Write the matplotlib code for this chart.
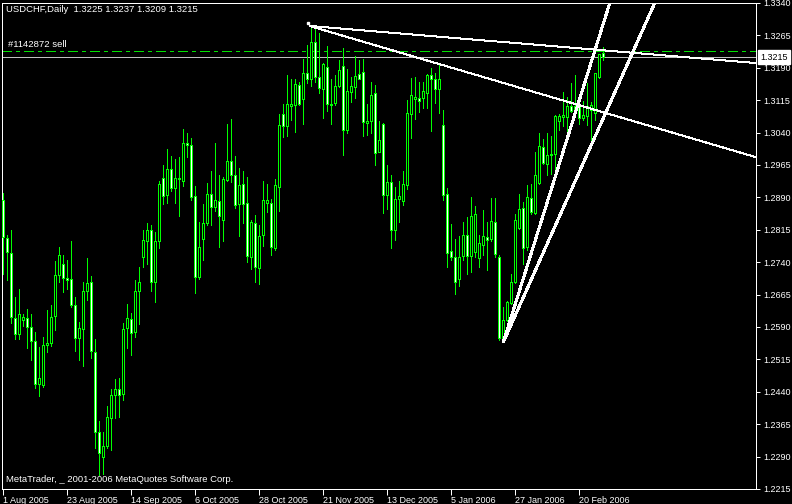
import matplotlib.pyplot as plt
import numpy as np
from matplotlib.transforms import blended_transform_factory

# USDCHF daily candles, 1 Aug 2005 .. end Feb 2006
opens = [1.2883, 1.2796, 1.2762, 1.2611, 1.2574, 1.2606, 1.2611, 1.2591, 1.2557, 1.2458,
         1.2455, 1.2548, 1.2552, 1.2615, 1.2711, 1.2736, 1.2704, 1.2700, 1.2642, 1.2564,
         1.2585, 1.2673, 1.2695, 1.2532, 1.2346, 1.2288, 1.2314, 1.2380, 1.2433, 1.2446,
         1.2435, 1.2587, 1.2609, 1.2578, 1.2673, 1.2752, 1.2789, 1.2814, 1.2695, 1.2790,
         1.2936, 1.2895, 1.2955, 1.2912, 1.2932, 1.2928, 1.3017, 1.3012, 1.2893, 1.2705,
         1.2793, 1.2831, 1.2899, 1.2868, 1.2881, 1.2838, 1.2931, 1.2974, 1.2941, 1.2874,
         1.2922, 1.2878, 1.2752, 1.2831, 1.2727, 1.2804, 1.2878, 1.2878, 1.2773, 1.2914,
         1.3082, 1.3056, 1.3102, 1.3105, 1.3151, 1.3117, 1.3179, 1.3163, 1.3250, 1.3169,
         1.3142, 1.3192, 1.3103, 1.3109, 1.3148, 1.3195, 1.3047, 1.3134, 1.3146, 1.3175,
         1.3181, 1.3063, 1.3066, 1.3131, 1.2995, 1.3059, 1.2896, 1.2926, 1.2815, 1.2886,
         1.2882, 1.2919, 1.3084, 1.3117, 1.3121, 1.3119, 1.3132, 1.3173, 1.3164, 1.3140,
         1.3057, 1.2899, 1.2765, 1.2753, 1.2700, 1.2754, 1.2802, 1.2754, 1.2763, 1.2750,
         1.2779, 1.2798, 1.2794, 1.2833, 1.2753, 1.2562, 1.2606, 1.2646, 1.2695, 1.2819,
         1.2866, 1.2775, 1.2889, 1.2855, 1.2923, 1.3007, 1.2968, 1.2988, 1.2991, 1.3067,
         1.3075, 1.3075, 1.3101, 1.3094, 1.3103, 1.3074, 1.3078, 1.3092, 1.3086, 1.3168,
         1.3225]
highs = [1.2900, 1.2802, 1.2815, 1.2660, 1.2678, 1.2619, 1.2632, 1.2620, 1.2578, 1.2543,
         1.2568, 1.2630, 1.2642, 1.2742, 1.2775, 1.2756, 1.2746, 1.2788, 1.2659, 1.2602,
         1.2694, 1.2749, 1.2707, 1.2563, 1.2373, 1.2348, 1.2408, 1.2446, 1.2469, 1.2473,
         1.2599, 1.2644, 1.2623, 1.2698, 1.2730, 1.2815, 1.2831, 1.2827, 1.2811, 1.2929,
         1.2964, 1.3001, 1.2985, 1.2980, 1.2984, 1.3048, 1.3040, 1.3028, 1.2916, 1.2833,
         1.2874, 1.2923, 1.2951, 1.3016, 1.2941, 1.2937, 1.3059, 1.3071, 1.2985, 1.2959,
         1.2950, 1.2937, 1.2837, 1.2850, 1.2825, 1.2927, 1.2920, 1.2887, 1.2933, 1.3083,
         1.3106, 1.3173, 1.3163, 1.3163, 1.3158, 1.3210, 1.3243, 1.3284, 1.3284, 1.3271,
         1.3202, 1.3240, 1.3165, 1.3173, 1.3208, 1.3235, 1.3187, 1.3169, 1.3218, 1.3209,
         1.3210, 1.3107, 1.3156, 1.3150, 1.3066, 1.3063, 1.2964, 1.2941, 1.2914, 1.2927,
         1.2950, 1.3115, 1.3167, 1.3169, 1.3156, 1.3156, 1.3175, 1.3190, 1.3178, 1.3196,
         1.3093, 1.2912, 1.2828, 1.2793, 1.2800, 1.2833, 1.2845, 1.2891, 1.2869, 1.2803,
         1.2860, 1.2833, 1.2889, 1.2889, 1.2757, 1.2636, 1.2651, 1.2713, 1.2852, 1.2897,
         1.2879, 1.2918, 1.2920, 1.2995, 1.3038, 1.3026, 1.3038, 1.3032, 1.3080, 1.3083,
         1.3134, 1.3123, 1.3154, 1.3173, 1.3111, 1.3113, 1.3154, 1.3111, 1.3177, 1.3223,
         1.3237]
lows = [1.2713, 1.2698, 1.2599, 1.2562, 1.2562, 1.2592, 1.2541, 1.2514, 1.2448, 1.2431,
        1.2450, 1.2531, 1.2545, 1.2582, 1.2694, 1.2670, 1.2677, 1.2636, 1.2534, 1.2514,
        1.2499, 1.2653, 1.2518, 1.2311, 1.2247, 1.2250, 1.2311, 1.2306, 1.2380, 1.2382,
        1.2422, 1.2541, 1.2526, 1.2568, 1.2596, 1.2729, 1.2736, 1.2674, 1.2649, 1.2773,
        1.2875, 1.2877, 1.2905, 1.2877, 1.2848, 1.2916, 1.2984, 1.2883, 1.2668, 1.2700,
        1.2744, 1.2827, 1.2827, 1.2858, 1.2775, 1.2790, 1.2928, 1.2926, 1.2866, 1.2800,
        1.2831, 1.2740, 1.2725, 1.2694, 1.2690, 1.2777, 1.2856, 1.2757, 1.2769, 1.2858,
        1.3030, 1.3032, 1.3069, 1.3042, 1.3103, 1.3059, 1.3154, 1.3148, 1.3158, 1.3131,
        1.3074, 1.3090, 1.3061, 1.3103, 1.3146, 1.2989, 1.3038, 1.3111, 1.3121, 1.3164,
        1.3032, 1.3034, 1.3038, 1.2964, 1.2994, 1.2854, 1.2862, 1.2773, 1.2792, 1.2833,
        1.2872, 1.2910, 1.3028, 1.3071, 1.3088, 1.3098, 1.3097, 1.3044, 1.3109, 1.3086,
        1.2885, 1.2729, 1.2746, 1.2667, 1.2686, 1.2744, 1.2713, 1.2717, 1.2752, 1.2729,
        1.2756, 1.2721, 1.2790, 1.2752, 1.2561, 1.2558, 1.2605, 1.2644, 1.2693, 1.2818,
        1.2736, 1.2769, 1.2852, 1.2852, 1.2922, 1.2968, 1.2943, 1.2945, 1.2937, 1.3047,
        1.3055, 1.3022, 1.3088, 1.3080, 1.3061, 1.3069, 1.3057, 1.3018, 1.3069, 1.3166,
        1.3209]
closes = [1.2798, 1.2763, 1.2613, 1.2574, 1.2620, 1.2614, 1.2589, 1.2557, 1.2458, 1.2473,
          1.2549, 1.2553, 1.2614, 1.2711, 1.2756, 1.2703, 1.2699, 1.2640, 1.2564, 1.2588,
          1.2674, 1.2693, 1.2534, 1.2346, 1.2299, 1.2314, 1.2382, 1.2432, 1.2446, 1.2432,
          1.2585, 1.2611, 1.2576, 1.2674, 1.2695, 1.2792, 1.2815, 1.2694, 1.2790, 1.2922,
          1.2893, 1.2955, 1.2912, 1.2936, 1.2936, 1.3017, 1.3012, 1.2891, 1.2705, 1.2776,
          1.2831, 1.2899, 1.2868, 1.2883, 1.2847, 1.2933, 1.2974, 1.2943, 1.2873, 1.2918,
          1.2875, 1.2754, 1.2834, 1.2729, 1.2800, 1.2883, 1.2883, 1.2775, 1.2918, 1.3057,
          1.3056, 1.3107, 1.3106, 1.3152, 1.3107, 1.3177, 1.3164, 1.3250, 1.3168, 1.3144,
          1.3198, 1.3107, 1.3107, 1.3148, 1.3186, 1.3047, 1.3136, 1.3148, 1.3172, 1.3165,
          1.3065, 1.3066, 1.3128, 1.2993, 1.3024, 1.2896, 1.2926, 1.2815, 1.2887, 1.2893,
          1.2920, 1.3086, 1.3128, 1.3123, 1.3114, 1.3136, 1.3173, 1.3165, 1.3142, 1.3165,
          1.2896, 1.2762, 1.2753, 1.2695, 1.2753, 1.2804, 1.2754, 1.2848, 1.2852, 1.2784,
          1.2800, 1.2792, 1.2835, 1.2760, 1.2565, 1.2606, 1.2649, 1.2695, 1.2837, 1.2864,
          1.2773, 1.2891, 1.2856, 1.2943, 1.3008, 1.2970, 1.2989, 1.2991, 1.3078, 1.3078,
          1.3080, 1.3101, 1.3090, 1.3101, 1.3073, 1.3080, 1.3102, 1.3105, 1.3177, 1.3223,
          1.3215]

date_bars = [0, 16, 32, 48, 64, 80, 96, 112, 128, 144]
date_labels = ['1 Aug 2005', '23 Aug 2005', '14 Sep 2005', '6 Oct 2005', '28 Oct 2005',
               '21 Nov 2005', '13 Dec 2005', '5 Jan 2006', '27 Jan 2006', '20 Feb 2006']
price_ticks = [1.3340, 1.3265, 1.3190, 1.3115, 1.3040, 1.2965, 1.2890, 1.2815,
               1.2740, 1.2665, 1.2590, 1.2515, 1.2440, 1.2365, 1.2290, 1.2215]

# trend lines: (bar, price) start and a second point, drawn as rays
trend_x0 = [76.5, 76.5, 125.0, 125.0]
trend_y0 = [1.3287, 1.3287, 1.2555, 1.2555]
trend_x1 = [188.2, 188.2, 148.7, 158.7]
trend_y1 = [1.3201, 1.2983, 1.3254, 1.3254]
trend_px = [1, 1, 2, 2]

order_price = 1.3229
bid_price = 1.3215

BULL = '#00ff00'
PX = 0.72  # one pixel in points at 100 dpi
FONT = 'Liberation Sans'

o = np.array(opens)
c = np.array(closes)
x = np.arange(len(o))

fig = plt.figure(figsize=(7.92, 5.04), dpi=100, facecolor='black')
ax = fig.add_axes([2 / 792, 15 / 504, 754 / 792, 486 / 504], facecolor='black')
ax.set_xlim(-0.33, 188.17)
ax.set_ylim(1.2215, 1.3340)

# bid and order lines
ax.axhline(bid_price, color='#c0c0c0', lw=PX, zorder=1, antialiased=False)
ax.axhline(order_price, color='#00e000', lw=PX, ls=(0, (10, 5, 3, 5)), zorder=1,
           antialiased=False)
ax.annotate('#1142872 sell', xy=(1.2, order_price), xytext=(0, 2), textcoords='offset pixels',
            color='white', fontsize=6.8, family=FONT, va='bottom', ha='left')

# candles
ax.vlines(x, lows, highs, color=BULL, lw=PX, zorder=2, antialiased=False)
body_bottom = np.minimum(o, c)
body_height = np.abs(c - o)
face = ['black' if cc >= oo else 'white' for oo, cc in zip(o, c)]
ax.bar(x, body_height, bottom=body_bottom, width=0.5, color=face, edgecolor=BULL,
       linewidth=PX, zorder=3, antialiased=False)

# trend lines (rays to the right)
for x0, y0, x1, y1, w in zip(trend_x0, trend_y0, trend_x1, trend_y1, trend_px):
    slope = (y1 - y0) / (x1 - x0)
    xe = 400
    ax.plot([x0, xe], [y0, y0 + slope * (xe - x0)], color='white', lw=w * PX, zorder=4,
            antialiased=False, solid_capstyle='butt')
ax.plot([76.2], [1.3293], marker='s', ms=2, color='white', zorder=4)

# frame and ticks
for sp in ax.spines.values():
    sp.set_color('white')
    sp.set_linewidth(PX)
ax.set_xticks(date_bars)
ax.set_xticklabels(date_labels)
ax.set_yticks(price_ticks)
ax.set_yticklabels([f'{p:.4f}' for p in price_ticks])
ax.tick_params(axis='x', direction='out', length=4, width=PX, color='white', labelcolor='white',
               labelsize=6.5, pad=1)
ax.tick_params(axis='y', direction='out', length=3, width=PX, color='white', labelcolor='white',
               labelsize=6.5, pad=2, left=False, labelleft=False, right=True, labelright=True)
for lab in ax.get_xticklabels():
    lab.set_horizontalalignment('left')
    lab.set_family(FONT)
for lab in ax.get_yticklabels():
    lab.set_family(FONT)

# current price label
tr = blended_transform_factory(ax.transAxes, ax.transData)
ax.text(1 + 4 / 754, bid_price, f'{bid_price:.4f}', transform=tr, color='black', fontsize=6.5,
        family=FONT, va='center', ha='left', zorder=10, clip_on=False,
        bbox=dict(boxstyle='square,pad=0.25', fc='white', ec='white'))

fig.text(6 / 792, 1 - 10 / 504, 'USDCHF,Daily  1.3225 1.3237 1.3209 1.3215', color='white',
         fontsize=6.8, family=FONT, va='center', ha='left')
fig.text(6 / 792, 1 - 479 / 504, 'MetaTrader, _ 2001-2006 MetaQuotes Software Corp.',
         color='white', fontsize=6.8, family=FONT, va='center', ha='left')

fig.savefig('out.png', dpi=100, facecolor='black')
